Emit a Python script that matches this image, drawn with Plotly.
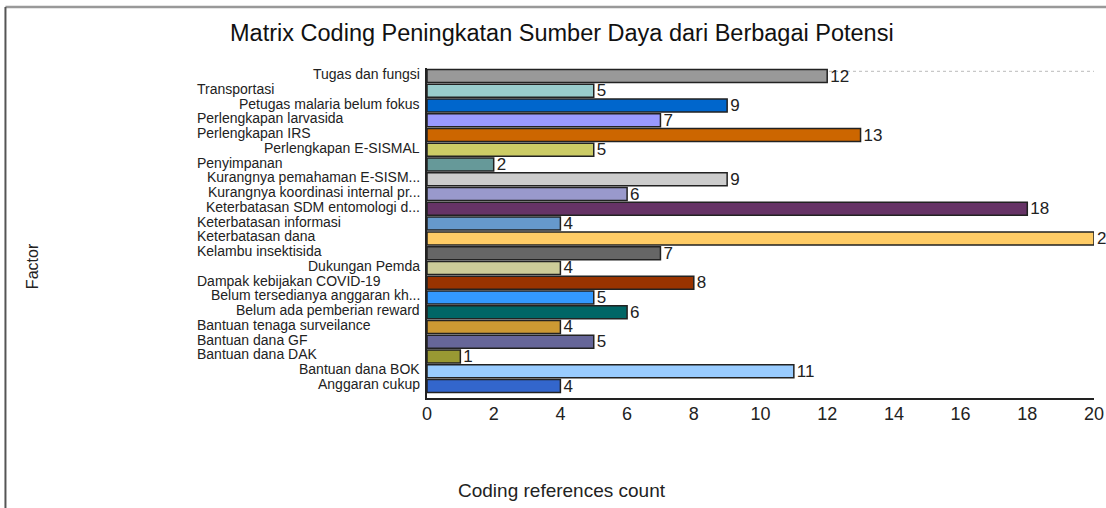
import plotly.graph_objects as go

# ---------- data ----------
factors = [
    "Tugas dan fungsi", "Transportasi", "Petugas malaria belum fokus",
    "Perlengkapan larvasida", "Perlengkapan IRS", "Perlengkapan E-SISMAL",
    "Penyimpanan", "Kurangnya pemahaman E-SISM...", "Kurangnya koordinasi internal pr...",
    "Keterbatasan SDM entomologi d...", "Keterbatasan informasi", "Keterbatasan dana",
    "Kelambu insektisida", "Dukungan Pemda", "Dampak kebijakan COVID-19",
    "Belum tersedianya anggaran kh...", "Belum ada pemberian reward",
    "Bantuan tenaga surveilance", "Bantuan dana GF", "Bantuan dana DAK",
    "Bantuan dana BOK", "Anggaran cukup",
]
counts = [12, 5, 9, 7, 13, 5, 2, 9, 6, 18, 4, 20, 7, 4, 8, 5, 6, 4, 5, 1, 11, 4]
x_ticks = [0, 2, 4, 6, 8, 10, 12, 14, 16, 18, 20]

# ---------- style ----------
bar_colors = [
    "#999999", "#99CCCC", "#0066CC", "#9999FF", "#CC6600", "#CCCC66",
    "#669999", "#CCCCCC", "#9999CC", "#663366", "#6699CC", "#FFCC66",
    "#666666", "#CCCC99", "#993300", "#3399FF", "#006666", "#CC9933",
    "#666699", "#999933", "#99CCFF", "#3366CC",
]
# labels in the source are aligned inconsistently
left_aligned = {
    "Transportasi", "Perlengkapan larvasida", "Perlengkapan IRS", "Penyimpanan",
    "Keterbatasan informasi", "Keterbatasan dana", "Kelambu insektisida",
    "Dampak kebijakan COVID-19", "Bantuan tenaga surveilance",
    "Bantuan dana GF", "Bantuan dana DAK",
}
FONT = "Liberation Sans, Arial, sans-serif"

fig = go.Figure(go.Bar(
    x=counts, y=factors, orientation="h",
    marker=dict(color=bar_colors, line=dict(color="#222222", width=1.5)),
    text=counts, textposition="outside", cliponaxis=False, constraintext="none",
    textfont=dict(family=FONT, size=17, color="#222222"),
))

# category labels as annotations so the mixed alignment can be kept
for name in factors:
    left = name in left_aligned
    fig.add_annotation(
        x=0, xref="paper", y=name, yref="y", text=name, showarrow=False,
        xanchor="left" if left else "right",
        xshift=-232 if left else -5, yshift=2,
        font=dict(family=FONT, size=14, color="#222222"),
    )

fig.add_annotation(x=-0.592, xref="paper", y=0.40, yref="paper", text="Factor",
                   textangle=-90, showarrow=False, xanchor="center", yanchor="middle",
                   font=dict(family=FONT, size=16, color="#222222"))
fig.add_annotation(x=0.2024, xref="paper", y=-0.279, yref="paper",
                   text="Coding references count", showarrow=False,
                   xanchor="center", yanchor="middle",
                   font=dict(family=FONT, size=19, color="#222222"))

# frame lines of the original image and dotted top line
fig.add_shape(type="line", xref="paper", yref="paper", x0=-0.632, x1=1.03,
              y0=1.185, y1=1.185, line=dict(color="#999999", width=2.5))
fig.add_shape(type="line", xref="paper", yref="paper", x0=-0.632, x1=-0.632,
              y0=1.185, y1=-0.35, line=dict(color="#555555", width=2))
fig.add_shape(type="line", xref="paper", yref="paper", x0=0, x1=1,
              y0=0.99, y1=0.99, layer="below",
              line=dict(color="#BBBBBB", width=1, dash="dot"))

fig.update_layout(
    width=1106, height=508,
    margin=dict(l=427, r=12, t=68, b=110),
    paper_bgcolor="white", plot_bgcolor="white",
    showlegend=False, bargap=0.12,
    title=dict(text="Matrix Coding Peningkatan Sumber Daya dari Berbagai Potensi",
               x=0.508, xanchor="center", y=0.935, yanchor="middle",
               font=dict(family=FONT, size=23.5, color="#111111")),
    xaxis=dict(range=[0, 20], tickvals=x_ticks, showgrid=False, zeroline=False,
               showline=True, linecolor="#222222", linewidth=2, ticks="",
               automargin=False, ticklabelstandoff=-2,
               tickfont=dict(family=FONT, size=18, color="#222222")),
    yaxis=dict(autorange="reversed", showticklabels=False, showgrid=False,
               zeroline=False, showline=True, linecolor="#222222", linewidth=2,
               ticks="", automargin=False),
)

# drop the default body margin / scrollbars so the figure sits at the window's corner
fig.write_html(
    "out.html",
    config={"displayModeBar": False, "responsive": False},
    post_script="document.body.style.margin='0';document.body.style.overflow='hidden';",
)
